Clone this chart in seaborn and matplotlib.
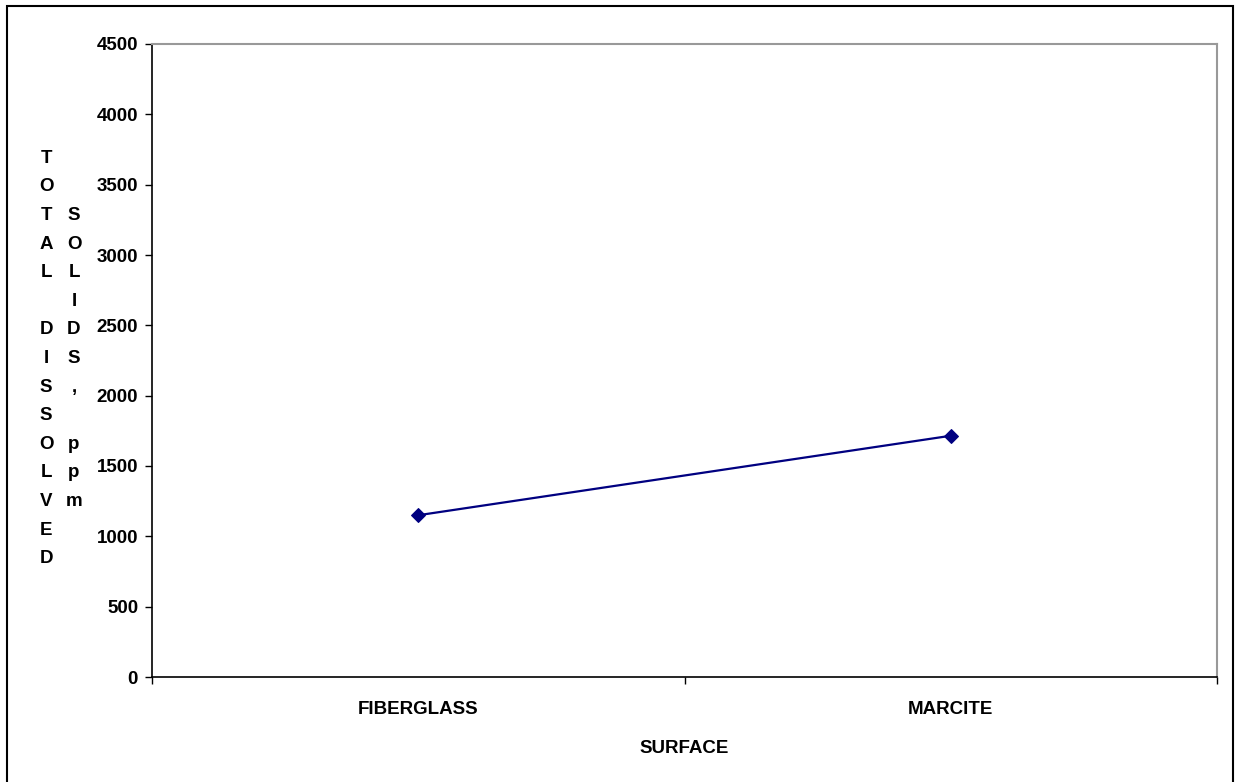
import matplotlib
matplotlib.use("Agg")
import matplotlib.pyplot as plt
from matplotlib.patches import Rectangle
import seaborn as sns
import pandas as pd

categories = ["FIBERGLASS", "MARCITE"]
tds_ppm = [1150, 1715]
y_ticks = [0, 500, 1000, 1500, 2000, 2500, 3000, 3500, 4000, 4500]
x_title = "SURFACE"
y_title_col1 = "TOTAL DISSOLVED"
y_title_col2 = "SOLIDS, ppm"

sns.set_theme(style="white")
plt.rcParams['font.family'] = ['Liberation Sans', 'DejaVu Sans']
plt.rcParams['text.color'] = 'black'
plt.rcParams['xtick.color'] = 'black'
plt.rcParams['ytick.color'] = 'black'
plt.rcParams['axes.labelcolor'] = 'black'

FS = 13.5
W, H = 1235, 782
fig = plt.figure(figsize=(W / 100, H / 100), dpi=100)
fig.patch.set_facecolor("white")

left, right, top, bottom = 152, 1217, 44, 677
ax = fig.add_axes([left / W, 1 - bottom / H, (right - left) / W, (bottom - top) / H])

df = pd.DataFrame({"pos": range(len(categories)), "tds": tds_ppm})
sns.lineplot(data=df, x="pos", y="tds", ax=ax, color="#000080", lw=1.6,
             marker="D", markersize=7, markeredgecolor="#000080",
             markerfacecolor="#000080")

ax.set_xlim(-0.5, len(categories) - 0.5)
ax.set_ylim(0, 4500)
ax.set_yticks(y_ticks)
ax.set_yticklabels([str(v) for v in y_ticks], fontsize=FS, fontweight="bold")
ax.set_xticks([i - 0.5 for i in range(len(categories) + 1)])
ax.set_xticklabels([])
ax.set_xticks(range(len(categories)), minor=True)
ax.set_xticklabels(categories, minor=True, fontsize=FS, fontweight="bold")
ax.tick_params(axis="x", which="major", direction="out", length=5, width=1,
               color="black", bottom=True)
ax.tick_params(axis="x", which="minor", length=0, pad=17, bottom=True)
ax.tick_params(axis="y", direction="out", length=5, width=1, color="black",
               left=True, pad=5)
ax.set_xlabel(x_title, fontsize=FS, fontweight="bold", labelpad=16)
ax.set_ylabel("")

for side in ["left", "bottom"]:
    ax.spines[side].set_color("black")
    ax.spines[side].set_linewidth(1.2)
for side in ["top", "right"]:
    ax.spines[side].set_color("#999999")
    ax.spines[side].set_linewidth(1.5)
    ax.spines[side].set_visible(True)
ax.grid(False)

# stacked vertical y title (two columns, centered vertically)
center_y = (top + bottom) / 2 - 2
step = 28.6
for col_text, xpx in [(y_title_col1, 46), (y_title_col2, 74)]:
    n = len(col_text)
    for i, ch in enumerate(col_text):
        ypx = center_y + (i - (n - 1) / 2) * step
        if ch != " ":
            fig.text(xpx / W, 1 - ypx / H, ch, ha="center", va="center",
                     fontsize=FS, fontweight="bold", color="black")

# outer chart border
fig.patches.append(Rectangle((7 / W, -0.05), (1233 - 7) / W, 1 - 6 / H + 0.05,
                             transform=fig.transFigure, fill=False,
                             edgecolor="black", lw=1.5))

fig.savefig("out.png", dpi=100, facecolor="white")
